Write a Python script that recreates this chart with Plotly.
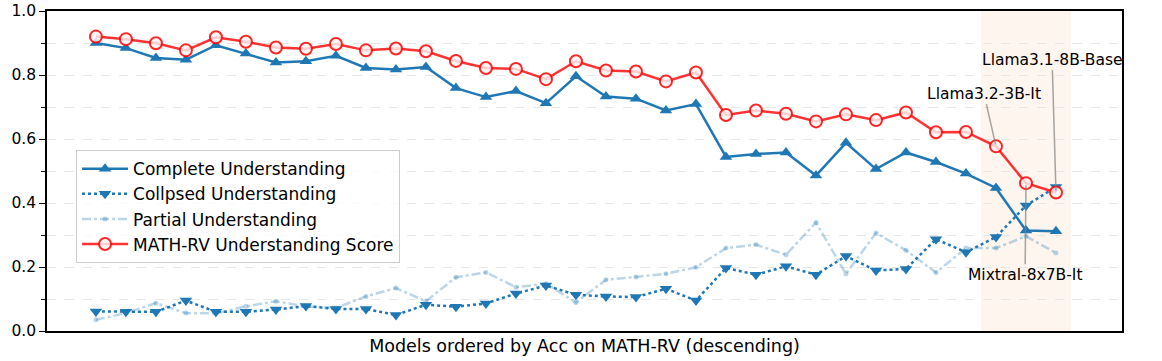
import plotly.graph_objects as go

# models ordered by Acc on MATH-RV (descending) - 33 models
model_idx = list(range(33))

complete = [0.900, 0.884, 0.853, 0.848, 0.893, 0.867, 0.839, 0.843, 0.860, 0.822,
            0.817, 0.825, 0.759, 0.731, 0.750, 0.712, 0.796, 0.733, 0.726, 0.689,
            0.709, 0.544, 0.553, 0.558, 0.486, 0.588, 0.506, 0.558, 0.528, 0.492,
            0.447, 0.314, 0.312]
collapsed = [0.061, 0.060, 0.060, 0.095, 0.060, 0.060, 0.067, 0.078, 0.069, 0.069,
             0.050, 0.082, 0.076, 0.086, 0.117, 0.142, 0.113, 0.108, 0.106, 0.132,
             0.095, 0.197, 0.176, 0.202, 0.176, 0.234, 0.189, 0.194, 0.287, 0.246,
             0.294, 0.392, 0.450]
partial = [0.035, 0.056, 0.087, 0.056, 0.055, 0.077, 0.093, 0.077, 0.072, 0.108,
           0.134, 0.093, 0.168, 0.183, 0.137, 0.148, 0.089, 0.160, 0.169, 0.179,
           0.199, 0.259, 0.270, 0.238, 0.339, 0.179, 0.306, 0.252, 0.183, 0.259,
           0.259, 0.296, 0.244]
score = [0.920, 0.912, 0.899, 0.877, 0.918, 0.904, 0.886, 0.882, 0.897, 0.877,
         0.883, 0.874, 0.844, 0.822, 0.819, 0.787, 0.843, 0.814, 0.811, 0.780,
         0.808, 0.675, 0.689, 0.679, 0.655, 0.677, 0.659, 0.683, 0.621, 0.622,
         0.577, 0.462, 0.433]

# highlighted models: (label, index, text x, text y)
highlights = [("Llama3.2-3B-It", 30, 29.6, 0.742),
              ("Mixtral-8x7B-It", 31, 30.97, 0.176),
              ("Llama3.1-8B-Base", 32, 31.87, 0.848)]
span = (29.5, 32.5)

blue = "#1f77b4"
font = "DejaVu Sans"

fig = go.Figure()

fig.add_vrect(x0=span[0], x1=span[1], fillcolor="#fef5ee", line_width=0, layer="below")

fig.add_trace(go.Scatter(x=model_idx, y=complete, name="Complete Understanding",
                         mode="lines+markers",
                         line=dict(color=blue, width=2.5),
                         marker=dict(symbol="triangle-up", size=11, color=blue)))
fig.add_trace(go.Scatter(x=model_idx, y=collapsed, name="Collpsed Understanding",
                         mode="lines+markers",
                         line=dict(color=blue, width=2.5, dash="dot"),
                         marker=dict(symbol="triangle-down", size=11, color=blue)))
fig.add_trace(go.Scatter(x=model_idx, y=partial, name="Partial Understanding",
                         mode="lines+markers",
                         line=dict(color="rgba(31,119,180,0.3)", width=2.5, dash="dashdot"),
                         marker=dict(symbol="circle", size=5, color="rgba(31,119,180,0.3)")))
fig.add_trace(go.Scatter(x=model_idx, y=score, name="MATH-RV Understanding Score",
                         mode="lines+markers",
                         line=dict(color="rgba(255,0,0,0.8)", width=2.5),
                         marker=dict(symbol="circle", size=12, color="rgba(255,245,245,0.8)",
                                     line=dict(color="rgba(255,0,0,0.85)", width=2))))

for label, i, tx, ty in highlights:
    fig.add_annotation(x=i, y=score[i], ax=tx, ay=ty, axref="x", ayref="y",
                       text=label, showarrow=True, arrowhead=0, arrowwidth=1.5,
                       arrowcolor="rgba(128,128,128,0.7)", standoff=2,
                       font=dict(family=font, size=15.5, color="black"))

fig.update_layout(
    width=1162, height=361,
    margin=dict(l=47, r=40, t=11, b=30),
    plot_bgcolor="white", paper_bgcolor="white",
    font=dict(family=font, size=15.5, color="black"),
    legend=dict(x=0.027, y=0.565, xanchor="left", yanchor="top",
                bgcolor="rgba(255,255,255,0.8)", bordercolor="#cccccc", borderwidth=1,
                font=dict(size=17), tracegroupgap=0, itemwidth=46),
    showlegend=True,
)
fig.update_xaxes(range=[-1.63, 34.2], showticklabels=False, ticks="", showgrid=False,
                 zeroline=False, showline=True, linecolor="black", linewidth=1.5, mirror=True,
                 automargin=False,
                 title=dict(text="Models ordered by Acc on MATH-RV (descending)",
                            font=dict(size=17.5), standoff=8))
fig.update_yaxes(range=[0, 1], tickvals=[0, 0.2, 0.4, 0.6, 0.8, 1.0], tickformat=".1f",
                 ticks="outside", ticklen=6, tickcolor="black", automargin=False,
                 showgrid=True, gridcolor="#e6e6e6", griddash="dash", gridwidth=1,
                 minor=dict(dtick=0.1, ticks="outside", ticklen=4, tickcolor="black",
                            showgrid=True, gridcolor="#e6e6e6", griddash="dash"),
                 zeroline=False, showline=True, linecolor="black", linewidth=1.5, mirror=True)

# drop the browser's default body margin so the figure sits at the page origin
fig.write_html("out.html", config={"displayModeBar": False},
               post_script="document.body.style.margin='0';")
